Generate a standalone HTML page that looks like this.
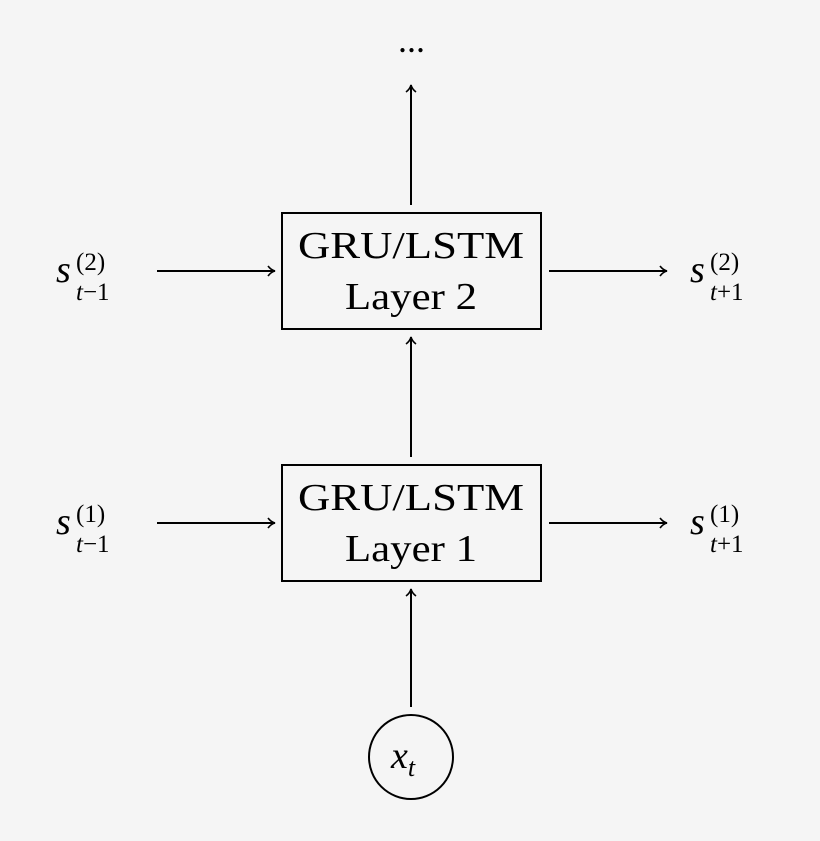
<!DOCTYPE html>
<html><head><style>body{margin:0;background:#f5f5f5}</style></head><body>
<svg width="820" height="841" xmlns="http://www.w3.org/2000/svg" style="display:block;background:#f5f5f5">
<defs><marker id="a" markerWidth="12" markerHeight="12" refX="10" refY="6" orient="auto" markerUnits="userSpaceOnUse"><path d="M3,1 Q6,5 10,6 Q6,7 3,11" fill="none" stroke="#000" stroke-width="1.6"/></marker></defs>
<g stroke="#000" stroke-width="2" fill="none">
<rect x="282" y="213" width="259" height="116"/>
<rect x="282" y="465" width="259" height="116"/>
<circle cx="411" cy="757" r="42"/>
<line x1="411" y1="707" x2="411" y2="589" marker-end="url(#a)"/>
<line x1="411" y1="457" x2="411" y2="337" marker-end="url(#a)"/>
<line x1="411" y1="205" x2="411" y2="85" marker-end="url(#a)"/>
<line x1="157" y1="271" x2="275" y2="271" marker-end="url(#a)"/>
<line x1="549" y1="271" x2="667" y2="271" marker-end="url(#a)"/>
<line x1="157" y1="523" x2="275" y2="523" marker-end="url(#a)"/>
<line x1="549" y1="523" x2="667" y2="523" marker-end="url(#a)"/>
</g>
<g font-family="Liberation Serif, serif" fill="#000" font-size="38">
<text x="298" y="258" textLength="226" lengthAdjust="spacingAndGlyphs">GRU/LSTM</text>
<text x="345" y="309" textLength="132" lengthAdjust="spacingAndGlyphs">Layer 2</text>
<text x="298" y="510" textLength="226" lengthAdjust="spacingAndGlyphs">GRU/LSTM</text>
<text x="345" y="561" textLength="132" lengthAdjust="spacingAndGlyphs">Layer 1</text>
<text x="398" y="52" font-size="36">...</text>
<text x="391" y="768" font-style="italic">x<tspan font-size="26" dy="8">t</tspan></text>
</g>
<g font-family="Liberation Serif, serif" fill="#000" font-size="38">
<text x="56" y="282" font-style="italic">s</text><text x="76" y="270" font-size="25">(2)</text><text x="76" y="300" font-size="25"><tspan font-style="italic">t</tspan>−1</text>
<text x="56" y="534" font-style="italic">s</text><text x="76" y="522" font-size="25">(1)</text><text x="76" y="552" font-size="25"><tspan font-style="italic">t</tspan>−1</text>
<text x="690" y="282" font-style="italic">s</text><text x="710" y="270" font-size="25">(2)</text><text x="710" y="300" font-size="25"><tspan font-style="italic">t</tspan>+1</text>
<text x="690" y="534" font-style="italic">s</text><text x="710" y="522" font-size="25">(1)</text><text x="710" y="552" font-size="25"><tspan font-style="italic">t</tspan>+1</text>
</g>
</svg>
</body></html>
